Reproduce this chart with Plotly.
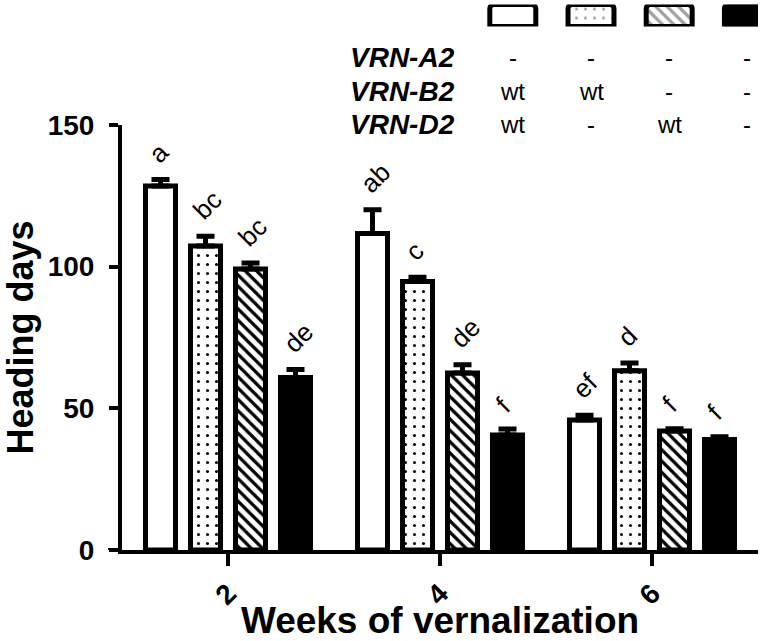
import plotly.graph_objects as go

# ---- data ----
weeks = ["2", "4", "6"]
genotypes = ["A2- B2wt D2wt", "A2- B2wt D2-", "A2- B2- D2wt", "A2- B2- D2-"]
heading_white = [128.5, 111.7, 45.9]
heading_dotted = [107.3, 94.8, 63.3]
heading_hatched = [99.2, 62.5, 42.0]
heading_black = [60.9, 40.6, 39.0]
err_white = [2.3, 8.4, 1.7]
err_dotted = [3.4, 1.5, 2.7]
err_hatched = [2.1, 2.9, 0.8]
err_black = [2.8, 2.1, 1.0]
letters_white = ["a", "ab", "ef"]
letters_dotted = ["bc", "c", "d"]
letters_hatched = ["bc", "de", "f"]
letters_black = ["de", "f", "f"]

row_labels = ["VRN-A2", "VRN-B2", "VRN-D2"]
row_a2 = ["-", "-", "-", "-"]
row_b2 = ["wt", "wt", "-", "-"]
row_d2 = ["wt", "-", "wt", "-"]

y_ticks = [0, 50, 100, 150]

# ---- styles ----
FONT = "Arial, Liberation Sans, sans-serif"
W, H = 774, 641
ML, MR, MT, MB = 122, 16, 2, 91
PW, PH = W - ML - MR, H - MT - MB
BARGAP = 0.151
BARGROUPGAP = 0.333
LW = 5
Y_MAX = 150
MAIN_PH = PH - (125 - MT)

PATTERNS = {
    "": dict(size=8, solidity=0.3),
    ".": dict(size=9, solidity=0.09),
    "\\": dict(size=8, solidity=0.4),
}

series = [
    (heading_white, err_white, letters_white, "white", ""),
    (heading_dotted, err_dotted, letters_dotted, "white", "."),
    (heading_hatched, err_hatched, letters_hatched, "white", "\\"),
    (heading_black, err_black, letters_black, "black", ""),
]

fig = go.Figure()
annotations = []
slot = (1 - BARGAP) / len(series)
for i, (vals, errs, lets, col, pat) in enumerate(series):
    pattern = dict(shape=pat, fgcolor="black", bgcolor=col, fillmode="replace", **PATTERNS[pat])
    fig.add_trace(go.Bar(
        x=weeks, y=vals, name=genotypes[i],
        marker=dict(color=col, line=dict(color="black", width=LW), pattern=pattern),
        error_y=dict(type="data", symmetric=False, array=errs, arrayminus=[0] * len(errs),
                     color="black", thickness=5, width=9),
        xaxis="x", yaxis="y", showlegend=False,
    ))
    # significance letters above the error bars, rotated
    for k, (v, e, t) in enumerate(zip(vals, errs, lets)):
        annotations.append(dict(
            x=k + (i - 1.5) * slot, y=v + e, xref="x", yref="y", text=t,
            showarrow=False, textangle=-45, xanchor="left", yanchor="bottom",
            xshift=-21, yshift=8,
            font=dict(family=FONT, size=26, color="black"),
        ))

# legend swatches (top)
sw_colors = [s[3] for s in series]
sw_patterns = [s[4] for s in series]
fig.add_trace(go.Bar(
    x=[0, 1, 2, 3], y=[1, 1, 1, 1], width=0.588,
    marker=dict(color=sw_colors, line=dict(color="black", width=LW), cornerradius=4,
                pattern=dict(shape=sw_patterns, fgcolor="black", bgcolor=sw_colors,
                             size=[PATTERNS[p]["size"] for p in sw_patterns],
                             solidity=[PATTERNS[p]["solidity"] for p in sw_patterns])),
    xaxis="x2", yaxis="y2", showlegend=False, hoverinfo="skip",
))


def py(ypx):
    return (MT + PH - ypx) / PH


row_y = [57, 91, 124]
for r, (lab, vals) in enumerate(zip(row_labels, [row_a2, row_b2, row_d2])):
    annotations.append(dict(
        x=(457 - ML) / PW, y=py(row_y[r]), xref="paper", yref="paper",
        text="<b><i>%s</i></b>" % lab, showarrow=False, xanchor="right", yanchor="middle",
        font=dict(family=FONT, size=28, color="black"),
    ))
    for j, t in enumerate(vals):
        annotations.append(dict(
            x=j, y=py(row_y[r]), xref="x2", yref="paper", text=t, showarrow=False,
            xanchor="center", yanchor="middle",
            font=dict(family=FONT, size=24, color="black"),
        ))

x2_px_per = 78.2
x2_c0 = 512.8

fig.update_layout(
    width=W, height=H,
    margin=dict(l=ML, r=MR, t=MT, b=MB, autoexpand=False),
    paper_bgcolor="white", plot_bgcolor="white",
    barmode="group", bargap=BARGAP, bargroupgap=BARGROUPGAP,
    font=dict(family=FONT, color="black"),
    annotations=annotations,
    xaxis=dict(
        type="category", range=[-0.5, 2.5], domain=[0, 1], anchor="y",
        showline=True, linewidth=4, linecolor="black", showgrid=False, zeroline=False,
        ticks="outside", ticklen=12, tickwidth=4, tickcolor="black",
        tickangle=-45, tickfont=dict(family=FONT, size=28, color="black", weight="bold"),
        title=dict(text="Weeks of vernalization", standoff=4,
                   font=dict(family=FONT, size=37, color="black", weight="bold")),
        automargin=False,
    ),
    yaxis=dict(
        range=[0, Y_MAX], domain=[0, MAIN_PH / PH], anchor="x",
        tickvals=y_ticks, showline=True, linewidth=4, linecolor="black",
        showgrid=False, zeroline=False,
        ticks="outside", ticklen=9, tickwidth=4, tickcolor="black", ticklabelstandoff=9,
        tickfont=dict(family=FONT, size=28, color="black", weight="bold"),
        title=dict(text="Heading days", standoff=4,
                   font=dict(family=FONT, size=36, color="black", weight="bold")),
        automargin=False,
    ),
    xaxis2=dict(
        range=[-(x2_c0 - ML) / x2_px_per, (ML + PW - x2_c0) / x2_px_per],
        domain=[0, 1], anchor="y2", visible=False, fixedrange=True,
    ),
    yaxis2=dict(
        range=[0, 1], domain=[py(26.5), py(4.5)], anchor="x2", visible=False,
        fixedrange=True,
    ),
    shapes=[dict(type="line", xref="paper", yref="y", x0=-14 / PW, x1=0, y0=0, y1=0,
                 line=dict(color="black", width=4))],
)

fig.write_html("out.html", config={"displayModeBar": False},
               post_script="document.body.style.margin='0';")
